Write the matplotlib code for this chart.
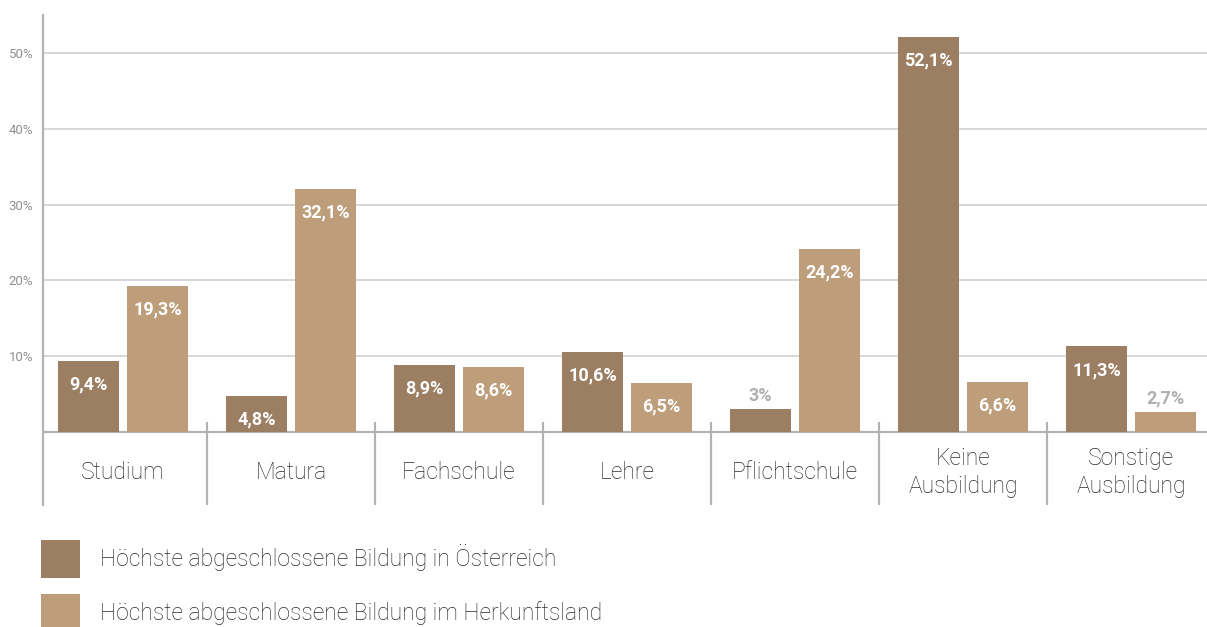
import numpy as np
import matplotlib.pyplot as plt

plt.rcParams['font.family'] = ['Roboto', 'DejaVu Sans']

categories = ['Studium', 'Matura', 'Fachschule', 'Lehre', 'Pflichtschule',
              'Keine\nAusbildung', 'Sonstige\nAusbildung']
oesterreich = [9.4, 4.8, 8.9, 10.6, 3.0, 52.1, 11.3]
herkunft = [19.3, 32.1, 8.6, 6.5, 24.2, 6.6, 2.7]
series_names = ['Höchste abgeschlossene Bildung in Österreich',
                'Höchste abgeschlossene Bildung im Herkunftsland']
yticks = [10, 20, 30, 40, 50]

col_dark = '#9c7e63'
col_light = '#bd9d7a'
col_axis = '#b3b3b5'
col_grid = '#cdcdcf'
col_text = '#2a2a2c'

fig = plt.figure(figsize=(12.07, 6.27), dpi=100)
ax = fig.add_axes([43/1207, 122/627, 1 - 43/1207, 490/627])

x = np.arange(len(categories))
w = 0.363
off = 0.205
b1 = ax.bar(x - off, oesterreich, w, color=col_dark, label=series_names[0], zorder=3)
b2 = ax.bar(x + off, herkunft, w, color=col_light, label=series_names[1], zorder=3)

def fmt(v):
    return f'{v:g}'.replace('.', ',') + '%'

for bars, vals in [(b1, oesterreich), (b2, herkunft)]:
    for rect, v in zip(bars, vals):
        cx = rect.get_x() + rect.get_width() / 2
        if v < 4:
            ax.annotate(fmt(v), (cx, v), xytext=(0, 9.5), textcoords='offset points',
                        ha='center', va='center', color='#b0b0b2',
                        fontsize=13, fontweight='bold', zorder=4)
        else:
            ax.annotate(fmt(v), (cx, v), xytext=(0, -17), textcoords='offset points',
                        ha='center', va='center', color='white',
                        fontsize=13, fontweight='bold', zorder=4)

ax.set_xlim(-0.476, 6.452)
ax.set_ylim(-9.6, 55)

# grid lines
for t in yticks:
    ax.axhline(t, color=col_grid, lw=1.1, zorder=1)
ax.axhline(0, color=col_axis, lw=1.6, zorder=2)

# separators between categories
for i in range(len(categories) - 1):
    ax.plot([i + 0.5, i + 0.5], [1.32, -9.6], color=col_axis, lw=1.6,
            zorder=2, solid_capstyle='butt', clip_on=False)

for i, c in enumerate(categories):
    ax.text(i, -5.3, c, ha='center', va='center', fontsize=16.5,
            fontweight='light', color=col_text, linespacing=1.25)

ax.set_yticks(yticks)
ax.set_yticklabels([f'{t}%' for t in yticks], color='#909092', fontsize=9.5)
ax.tick_params(axis='y', length=0, pad=7)
ax.set_xticks([])

for s in ['top', 'right', 'bottom']:
    ax.spines[s].set_visible(False)
ax.spines['left'].set_color(col_axis)
ax.spines['left'].set_linewidth(1.6)

fig.legend(handles=[b1, b2], loc='upper left',
           bbox_to_anchor=(41/1207, 1 - 540/627), frameon=False,
           prop={'size': 16.5, 'weight': 'light'},
           handlelength=1.71, handleheight=2.2,
           labelspacing=0.68, handletextpad=0.87, borderpad=0,
           borderaxespad=0, labelcolor=col_text)

fig.savefig('out.png', dpi=100)
